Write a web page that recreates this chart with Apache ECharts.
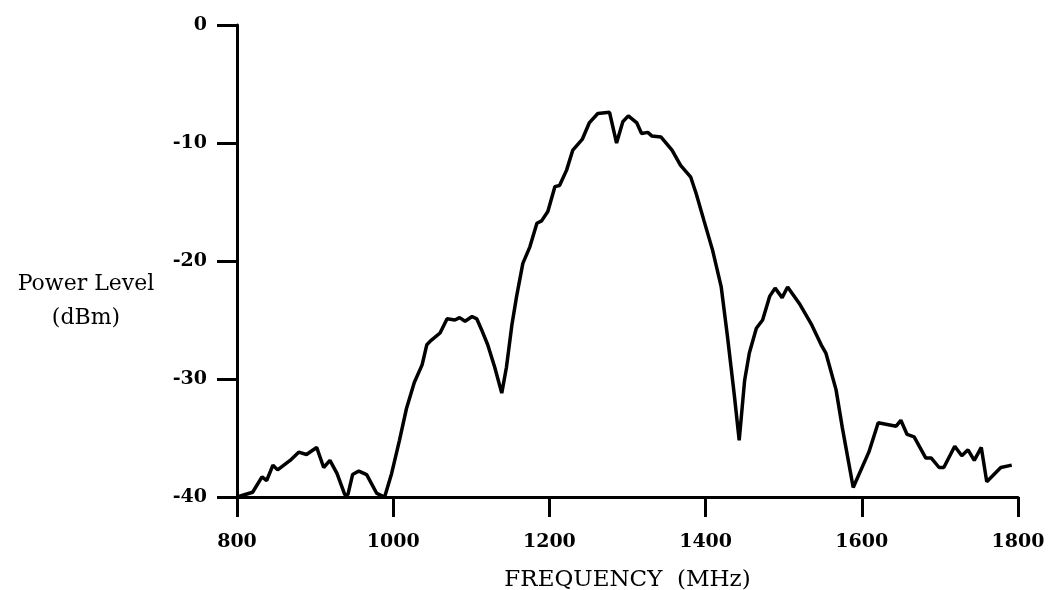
<!DOCTYPE html>
<html>
<head>
<meta charset="utf-8">
<script src="https://cdn.jsdelivr.net/npm/echarts@6/dist/echarts.min.js"></script>
<style>
  html, body { margin: 0; padding: 0; background: #fff; }
  #chart { width: 1052px; height: 590px; }
</style>
</head>
<body>
<div id="chart"></div>
<script>
// spectrum: frequency (MHz) and power level (dBm)
var freq = [800, 820, 832, 838, 846, 852, 868, 879, 889, 902, 911, 919, 928, 938, 942, 948, 956, 966, 979, 989,
  998, 1008, 1017, 1027, 1037, 1043, 1049, 1060, 1069, 1079, 1085, 1092, 1101, 1107, 1113, 1121, 1130, 1139, 1145, 1152,
  1158, 1166, 1175, 1184, 1190, 1198, 1207, 1213, 1222, 1230, 1242, 1251, 1262, 1277, 1286, 1294, 1301, 1312, 1318, 1326,
  1331, 1343, 1357, 1368, 1381, 1388, 1398, 1409, 1420, 1428, 1437, 1443, 1450, 1456, 1465, 1473, 1482, 1489, 1498, 1505,
  1520, 1535, 1548, 1554, 1567, 1575, 1589, 1609, 1621, 1644, 1650, 1658, 1667, 1682, 1689, 1699, 1705, 1719, 1728, 1736,
  1744, 1753, 1760, 1778, 1792];
var power = [-40, -39.6, -38.3, -38.6, -37.3, -37.7, -36.9, -36.2, -36.4, -35.8, -37.5, -36.9, -38.0, -39.8, -39.8, -38.1, -37.8, -38.1, -39.7, -40,
  -38.0, -35.2, -32.5, -30.3, -28.8, -27.1, -26.7, -26.1, -24.9, -25.0, -24.8, -25.1, -24.7, -24.9, -25.8, -27.1, -29.0, -31.2, -29.0, -25.4,
  -23.0, -20.2, -18.8, -16.8, -16.6, -15.8, -13.7, -13.6, -12.3, -10.6, -9.7, -8.3, -7.5, -7.4, -10.0, -8.2, -7.7, -8.3, -9.2, -9.1,
  -9.4, -9.5, -10.6, -11.9, -12.9, -14.3, -16.6, -19.1, -22.2, -26.4, -31.5, -35.2, -30.1, -27.8, -25.7, -25.0, -23.0, -22.3, -23.1, -22.2,
  -23.6, -25.3, -27.1, -27.8, -30.9, -34.1, -39.2, -36.2, -33.7, -34.0, -33.5, -34.7, -34.9, -36.7, -36.7, -37.5, -37.5, -35.7, -36.5, -36.0,
  -36.9, -35.8, -38.7, -37.5, -37.3];

var xTicks = [800, 1800, 200];   // min, max, step
var yTicks = [-40, 0, 10];

var pts = [];
for (var i = 0; i < freq.length; i++) pts.push([freq[i], power[i]]);

var serif = '"DejaVu Serif", "Liberation Serif", serif';
var chart = echarts.init(document.getElementById('chart'));
chart.setOption({
  animation: false,
  backgroundColor: '#fff',
  grid: { left: 237, right: 34, top: 25, bottom: 93, containLabel: false, outerBoundsMode: 'none' },
  xAxis: {
    type: 'value',
    min: xTicks[0], max: xTicks[1], interval: xTicks[2],
    name: 'FREQUENCY  (MHz)',
    nameLocation: 'middle',
    nameGap: 72,
    nameTextStyle: { fontFamily: serif, fontSize: 23, color: '#000' },
    axisLine: { onZero: false, lineStyle: { color: '#000', width: 3 } },
    axisTick: { length: 20, lineStyle: { color: '#000', width: 3 } },
    axisLabel: {
      margin: 36, fontFamily: serif, fontWeight: 'bold', fontSize: 19, color: '#000',
      formatter: function (v) { return String(v); }
    },
    splitLine: { show: false }
  },
  yAxis: {
    type: 'value',
    min: yTicks[0], max: yTicks[1], interval: yTicks[2],
    axisLine: { show: true, onZero: false, lineStyle: { color: '#000', width: 3 } },
    axisTick: { show: true, length: 20, lineStyle: { color: '#000', width: 3 } },
    axisLabel: { margin: 30, fontFamily: serif, fontWeight: 'bold', fontSize: 19, color: '#000' },
    splitLine: { show: false }
  },
  graphic: [{
    type: 'text',
    x: 86, y: 301,
    style: {
      text: 'Power Level\n(dBm)',
      font: '22px ' + serif,
      fill: '#000',
      align: 'center',
      verticalAlign: 'middle',
      lineHeight: 34
    }
  }],
  series: [{
    type: 'line',
    data: pts,
    showSymbol: false,
    lineStyle: { color: '#000', width: 3.5 },
    clip: false
  }]
});
</script>
</body>
</html>
